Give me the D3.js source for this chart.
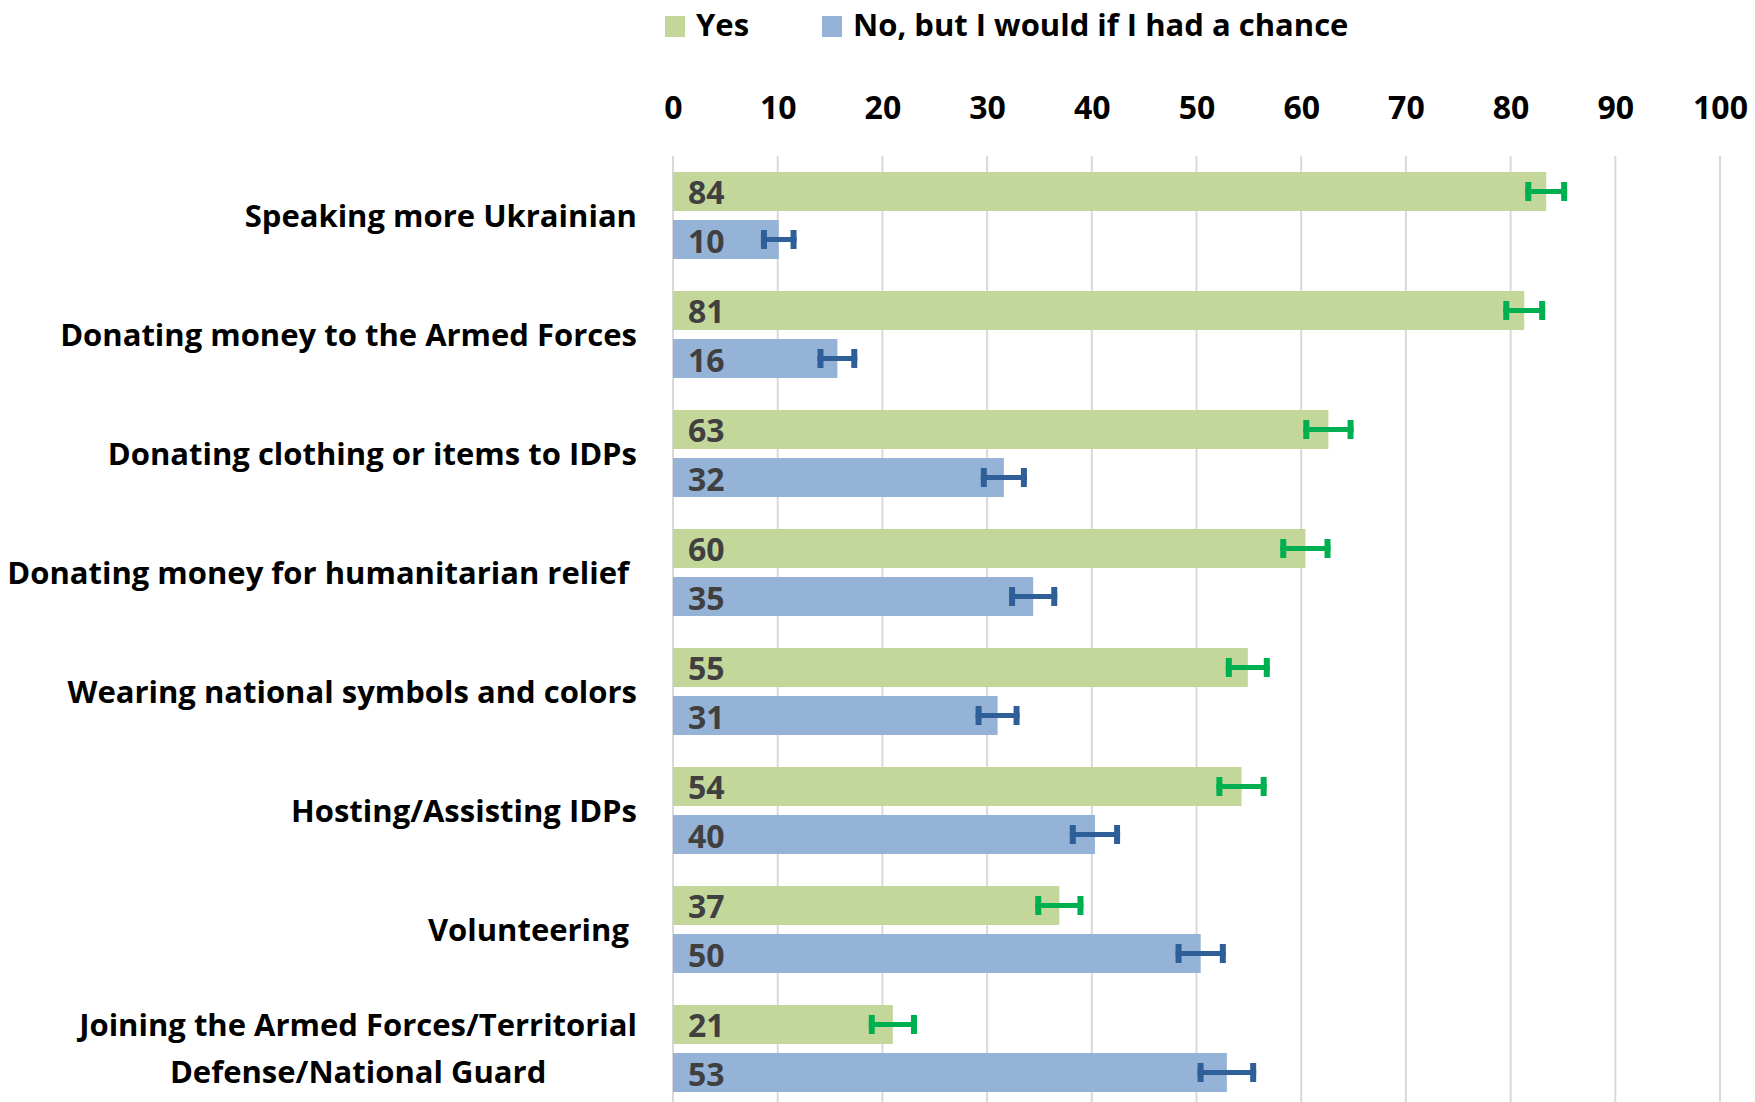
<!doctype html>
<html lang="en">
<head>
  <meta charset="utf-8">
  <title>Civic actions</title>
  <script src="https://cdnjs.cloudflare.com/ajax/libs/d3/7.8.5/d3.min.js"></script>
  <style>
    body { margin: 0; background: #fff; }
    text { font-family: "Open Sans", Lato, sans-serif; font-weight: bold; white-space: pre; }
  </style>
</head>
<body>
<svg width="1755" height="1102" id="svg"></svg>
<script>
  // categories (trailing spaces kept as in the original labels)
  var categories = [
    ["Speaking more Ukrainian"],
    ["Donating money to the Armed Forces"],
    ["Donating clothing or items to IDPs"],
    ["Donating money for humanitarian relief "],
    ["Wearing national symbols and colors"],
    ["Hosting/Assisting IDPs"],
    ["Volunteering "],
    ["Joining the Armed Forces/Territorial", "Defense/National Guard"]
  ];
  var seriesNames = ["Yes", "No, but I would if I had a chance"];

  var yesValues = [83.4, 81.3, 62.6, 60.4, 54.9, 54.3, 36.9, 21.0];
  var yesLabels = [84, 81, 63, 60, 55, 54, 37, 21];
  var yesErr    = [2.0, 2.0, 2.4, 2.4, 2.1, 2.4, 2.3, 2.3];

  var noValues = [10.1, 15.7, 31.6, 34.4, 31.0, 40.3, 50.4, 52.9];
  var noLabels = [10, 16, 32, 35, 31, 40, 50, 53];
  var noErr    = [1.7, 1.9, 2.2, 2.3, 2.1, 2.4, 2.4, 2.8];

  var ticks = [0, 10, 20, 30, 40, 50, 60, 70, 80, 90, 100];

  var barColors = ["#c4d79b", "#95b3d7"];
  var errColors = ["#00b050", "#2f5f98"];

  var svg = d3.select('#svg');
  var fs = 31;      // category and legend text
  var fsNum = 32;   // tick and data labels

  var x = d3.scaleLinear().domain([0, 100]).range([673, 1720]);
  var y = d3.scaleBand().domain(d3.range(categories.length)).range([156, 156 + 119 * categories.length]);
  var sub = d3.scaleBand().domain([0, 1]).range([0, y.bandwidth()]).paddingInner(0.1875).paddingOuter(0.333);

  // gridlines
  svg.append('g').selectAll('line')
    .data(ticks)
    .enter().append('line')
    .attr('x1', function(d) { return x(d); })
    .attr('x2', function(d) { return x(d); })
    .attr('y1', 156).attr('y2', 1102)
    .attr('stroke', '#d9d9d9')
    .attr('stroke-width', 2);

  // top axis labels
  var axis = d3.axisTop(x).tickValues(ticks).tickSize(0).tickPadding(0);
  var gx = svg.append('g').attr('transform', 'translate(0,119)').call(axis);
  gx.select('.domain').remove();
  gx.selectAll('text')
    .attr('font-size', fsNum)
    .attr('fill', '#000')
    .attr('dy', 0)
    .style('font-family', '"Open Sans", sans-serif')
    .style('font-weight', 'bold');

  var series = [
    { vals: yesValues, labels: yesLabels, err: yesErr },
    { vals: noValues, labels: noLabels, err: noErr }
  ];

  series.forEach(function(s, si) {
    var g = svg.append('g');
    var rows = d3.range(categories.length);

    g.selectAll('rect')
      .data(rows)
      .enter().append('rect')
      .attr('x', x(0))
      .attr('y', function(i) { return y(i) + sub(si); })
      .attr('width', function(i) { return x(s.vals[i]) - x(0); })
      .attr('height', sub.bandwidth())
      .attr('fill', barColors[si]);

    g.selectAll('text')
      .data(rows)
      .enter().append('text')
      .attr('x', x(0) + 15)
      .attr('y', function(i) { return y(i) + sub(si) + sub.bandwidth() / 2 + 13; })
      .attr('font-size', fsNum)
      .attr('fill', '#404040')
      .text(function(i) { return s.labels[i]; });

    // error bars
    var eb = g.selectAll('g.err')
      .data(rows)
      .enter().append('g')
      .attr('class', 'err')
      .attr('stroke', errColors[si]);
    eb.append('line')
      .attr('x1', function(i) { return x(s.vals[i] - s.err[i]); })
      .attr('x2', function(i) { return x(s.vals[i] + s.err[i]); })
      .attr('y1', function(i) { return y(i) + sub(si) + sub.bandwidth() / 2; })
      .attr('y2', function(i) { return y(i) + sub(si) + sub.bandwidth() / 2; })
      .attr('stroke-width', 5);
    [-1, 1].forEach(function(sign) {
      eb.append('line')
        .attr('x1', function(i) { return x(s.vals[i] + sign * s.err[i]) - sign * 3; })
        .attr('x2', function(i) { return x(s.vals[i] + sign * s.err[i]) - sign * 3; })
        .attr('y1', function(i) { return y(i) + sub(si) + sub.bandwidth() / 2 - 9.5; })
        .attr('y2', function(i) { return y(i) + sub(si) + sub.bandwidth() / 2 + 9.5; })
        .attr('stroke-width', 6);
    });
  });

  // category labels
  var labelRight = 637;
  categories.forEach(function(lines, i) {
    var cy = y(i) + y.bandwidth() / 2;
    var lh = 47;
    var t = svg.append('text')
      .attr('font-size', fs)
      .attr('fill', '#000');
    lines.forEach(function(line, li) {
      t.append('tspan')
        .attr('y', cy + (li - (lines.length - 1) / 2) * lh + 11)
        .text(line);
    });
    if (lines.length === 1) {
      t.attr('text-anchor', 'end').selectAll('tspan').attr('x', labelRight);
    } else {
      var maxW = 0;
      t.selectAll('tspan').each(function() { maxW = Math.max(maxW, this.getComputedTextLength()); });
      t.attr('text-anchor', 'middle').selectAll('tspan').attr('x', labelRight - maxW / 2);
    }
  });

  // legend
  var legX = [665, 822];
  seriesNames.forEach(function(name, si) {
    svg.append('rect')
      .attr('x', legX[si]).attr('y', 16)
      .attr('width', 20).attr('height', 21)
      .attr('fill', barColors[si]);
    svg.append('text')
      .attr('x', legX[si] + 31).attr('y', 36)
      .attr('font-size', fs)
      .attr('fill', '#000')
      .text(name);
  });
</script>
</body>
</html>
